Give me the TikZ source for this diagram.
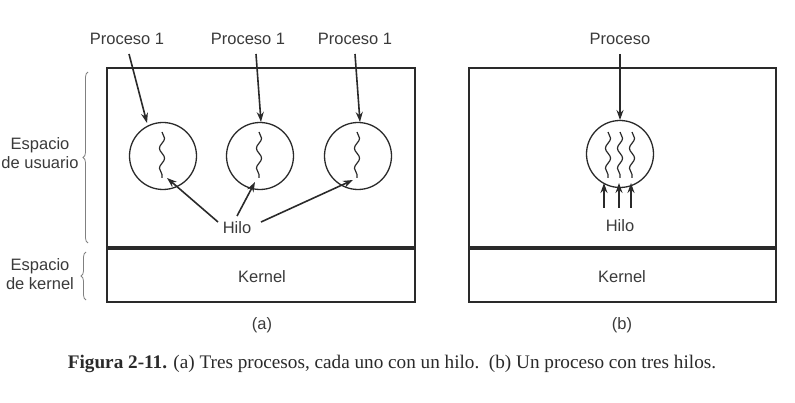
\documentclass[tikz,border=0pt]{standalone}
\usepackage{fontspec}
\setmainfont{Liberation Serif}
\newfontfamily\lsans{Liberation Sans}
\usetikzlibrary{arrows.meta,decorations.pathreplacing,decorations.pathmorphing}
\definecolor{ink}{HTML}{2A2A2A}
\definecolor{txt}{HTML}{3A3A3A}
\begin{document}
\begin{tikzpicture}[x=1pt,y=-1pt,
  lbl/.style={font=\lsans\fontsize{16.5}{19}\selectfont, text=txt, inner sep=1pt, align=center},
  boxst/.style={draw=ink, line width=1.4pt},
  proc/.style={draw=ink, line width=1.3pt, circle, minimum size=67pt, inner sep=0pt},
  arr/.style={draw=ink, line width=1.6pt, -{Stealth[length=10pt,width=7pt]}},
  brc/.style={draw=gray, line width=0.8pt, decorate, decoration={brace, amplitude=5pt}},
  sq/.style={draw=ink, line width=1.2pt, decorate, decoration={snake, amplitude=2.6pt, segment length=20pt}}]
\useasboundingbox (0,0) rectangle (795,403);
% boxes (a)
\draw[boxst] (107,68) rectangle (415,247);
\draw[boxst] (107,249) rectangle (415,302);
\node[lbl] (ka) at (262,277) {Kernel};
% boxes (b)
\draw[boxst] (469,68) rectangle (776,247);
\draw[boxst] (469,249) rectangle (776,302);
\node[lbl] (kb) at (622,277) {Kernel};
% labels
\node[lbl] (pa1) at (127,39) {Proceso 1};
\node[lbl] (pa2) at (248,39) {Proceso 1};
\node[lbl] (pa3) at (355,39) {Proceso 1};
\node[lbl] (pb) at (620,39) {Proceso};
% circles
\node[proc] (c1) at (163,156) {};
\node[proc] (c2) at (260,156) {};
\node[proc] (c3) at (358,156) {};
\node[proc] (cb) at (620,154) {};
% squiggles
\foreach \cx/\nm in {162/s1,259/s2,357/s3,608/s4,620/s5,632/s6}{
  \coordinate (\nm a) at (\cx,132);
  \coordinate (\nm b) at (\cx,178);
  \draw[sq] (\nm a) -- (\nm b);
}
% process arrows
\coordinate (f1) at (129,54);
\coordinate (f2) at (256,54);
\coordinate (f3) at (355,54);
\coordinate (fb) at (620,54);
\coordinate (t1) at (147,123);
\coordinate (t2) at (261,122);
\coordinate (t3) at (360,122);
\coordinate (tb) at (620,120);
\draw[arr] (f1) -- (t1);
\draw[arr] (f2) -- (t2);
\draw[arr] (f3) -- (t3);
\draw[arr] (fb) -- (tb);
% Hilo (a)
\node[lbl] (ha) at (237,228) {Hilo};
\coordinate (g1) at (218,222);
\coordinate (g2) at (237,216);
\coordinate (g3) at (261,222);
\coordinate (h1) at (167,178);
\coordinate (h2) at (255,182);
\coordinate (h3) at (353,180);
\draw[arr] (g1) -- (h1);
\draw[arr] (g2) -- (h2);
\draw[arr] (g3) -- (h3);
% Hilo (b)
\node[lbl] (hb) at (620,226) {Hilo};
\foreach \ax/\nm in {604/u1,619/u2,631/u3}{
  \coordinate (\nm s) at (\ax,208);
  \coordinate (\nm e) at (\ax,183);
  \draw[arr] (\nm s) -- (\nm e);
}
% braces
\draw[brc] (88,243) -- (88,72);
\draw[brc] (86,300) -- (86,252);
\node[lbl] (eu) at (40,153) {Espacio\\de usuario};
\node[lbl] (ek) at (40,274) {Espacio\\de kernel};
% sub labels
\node[lbl] (la) at (262,325) {(a)};
\node[lbl] (lb) at (622,325) {(b)};
% caption
\node[font=\fontsize{19.2}{22}\selectfont, text=ink, inner sep=0pt] (cap) at (392,364)
  {\textbf{Figura 2-11.} (a) Tres procesos, cada uno con un hilo.\ \ (b) Un proceso con tres hilos.};
\end{tikzpicture}
\end{document}
